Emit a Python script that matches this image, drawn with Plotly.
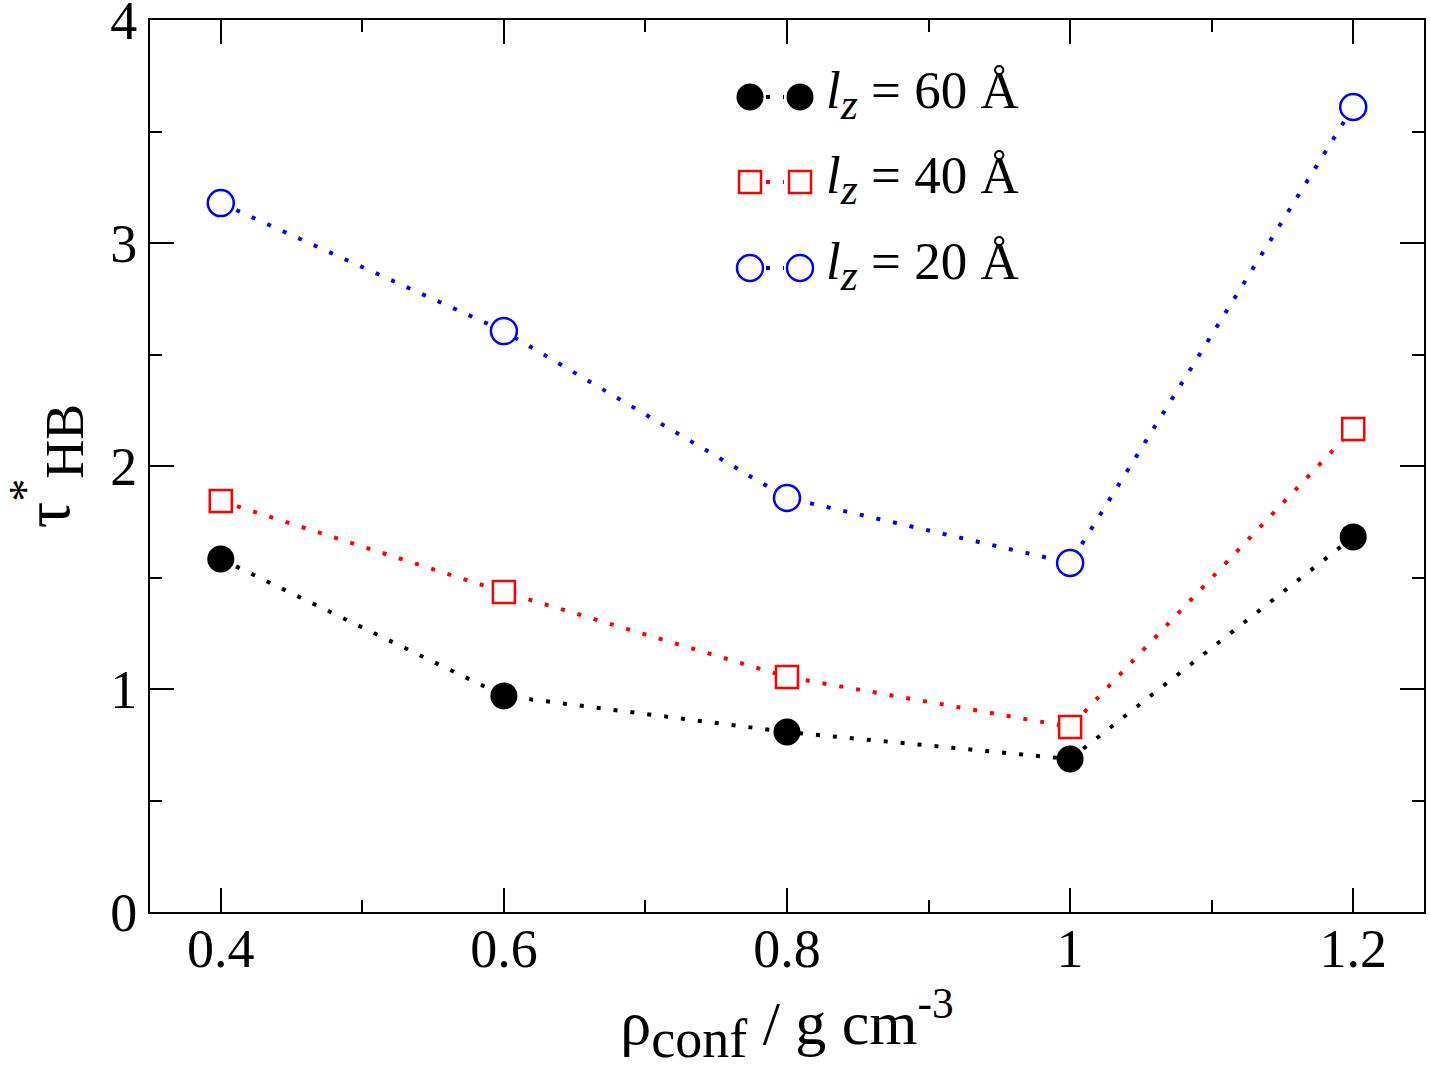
import plotly.graph_objects as go

# ---- data ----
density = [0.4, 0.6, 0.8, 1.0, 1.2]
tau_lz60 = [1.583, 0.969, 0.807, 0.686, 1.682]
tau_lz40 = [1.843, 1.435, 1.054, 0.830, 2.166]
tau_lz20 = [3.179, 2.605, 1.857, 1.565, 3.610]
series_labels = ["<i>l</i><sub><i><span style='font-size:44px'>z</span></i></sub> = 60 Å",
                 "<i>l</i><sub><i><span style='font-size:44px'>z</span></i></sub> = 40 Å",
                 "<i>l</i><sub><i><span style='font-size:44px'>z</span></i></sub> = 20 Å"]
x_ticks = [0.4, 0.6, 0.8, 1.0, 1.2]
x_ticktext = ["0.4", "0.6", "0.8", "1", "1.2"]
y_ticks = [0, 1, 2, 3, 4]

FONT = "Liberation Serif"
DOT = "4px,13px"

styles = [
    dict(color="black", symbol="circle", size=27, fill="black", lw=0),
    dict(color="red", symbol="square", size=22, fill="white", lw=2.5),
    dict(color="blue", symbol="circle", size=26, fill="white", lw=2.5),
]
values = [tau_lz60, tau_lz40, tau_lz20]

fig = go.Figure()
for vals, st, lab in zip(values, styles, series_labels):
    fig.add_trace(go.Scatter(
        x=density, y=vals, mode="lines+markers", name=lab, showlegend=False,
        line=dict(color=st["color"], width=4, dash=DOT),
        marker=dict(symbol=st["symbol"], size=st["size"], color=st["fill"],
                    line=dict(color=st["color"], width=st["lw"])),
    ))

# ---- custom legend (two symbols joined by a dotted segment) ----
L, R, T, B = 150, 1424, 20, 912
W, H = R - L, B - T
def px(x):
    return (x - L) / W
def py(y):
    return (B - y) / H

shapes = []
annotations = []
rows = [97, 182, 268]
for st, lab, ry in zip(styles, series_labels, rows):
    yc = py(ry)
    shapes.append(dict(type="line", xref="paper", yref="paper",
                       x0=px(766), x1=px(784), y0=yc, y1=yc,
                       line=dict(color=st["color"], width=4, dash=DOT)))
    for mx in (750, 800):
        xc = px(mx)
        r = st["size"] / 2
        shp = dict(type="circle" if st["symbol"] == "circle" else "rect",
                   x0=-r, x1=r, y0=-r, y1=r)
        shp.update(xref="paper", yref="paper", xsizemode="pixel", ysizemode="pixel",
                   xanchor=xc, yanchor=yc, fillcolor=st["fill"],
                   line=dict(color=st["color"], width=st["lw"] if st["lw"] else 0))
        shapes.append(shp)
    annotations.append(dict(xref="paper", yref="paper", x=px(824), y=yc + 0.002,
                            xanchor="left", yanchor="middle", showarrow=False,
                            text=lab, font=dict(family=FONT, size=53, color="black")))

axis_common = dict(
    showline=True, linecolor="black", linewidth=2, mirror="allticks",
    ticks="inside", ticklen=24, tickwidth=2, tickcolor="black",
    showgrid=False, zeroline=False, ticklabeloverflow="allow", automargin=False,
    tickfont=dict(family=FONT, size=54, color="black"),
)

fig.update_layout(
    width=1430, height=1073,
    margin=dict(l=L, r=1430 - R, t=T, b=1073 - B),
    paper_bgcolor="white", plot_bgcolor="white",
    shapes=shapes, annotations=annotations,
    xaxis=dict(range=[0.35, 1.25], tickvals=x_ticks, ticktext=x_ticktext,
               minor=dict(dtick=0.1, tick0=0.3, ticks="inside", ticklen=12,
                          tickwidth=2, tickcolor="black"),
               title=dict(text="ρ<sub><span style='font-size:54px'>conf</span></sub> / g cm<sup>-3</sup>",
                          font=dict(family=FONT, size=62, color="black"), standoff=2),
               ticklabelstandoff=-12,
               **axis_common),
    yaxis=dict(range=[0, 4], tickvals=y_ticks,
               minor=dict(dtick=0.5, tick0=0, ticks="inside", ticklen=12,
                          tickwidth=2, tickcolor="black"),
               title=dict(text="τ<sup>*</sup><sub><span style='font-size:54px'>HB</span></sub>",
                          font=dict(family=FONT, size=66, color="black"), standoff=22),
               **axis_common),
)

fig.write_html("out.html")
